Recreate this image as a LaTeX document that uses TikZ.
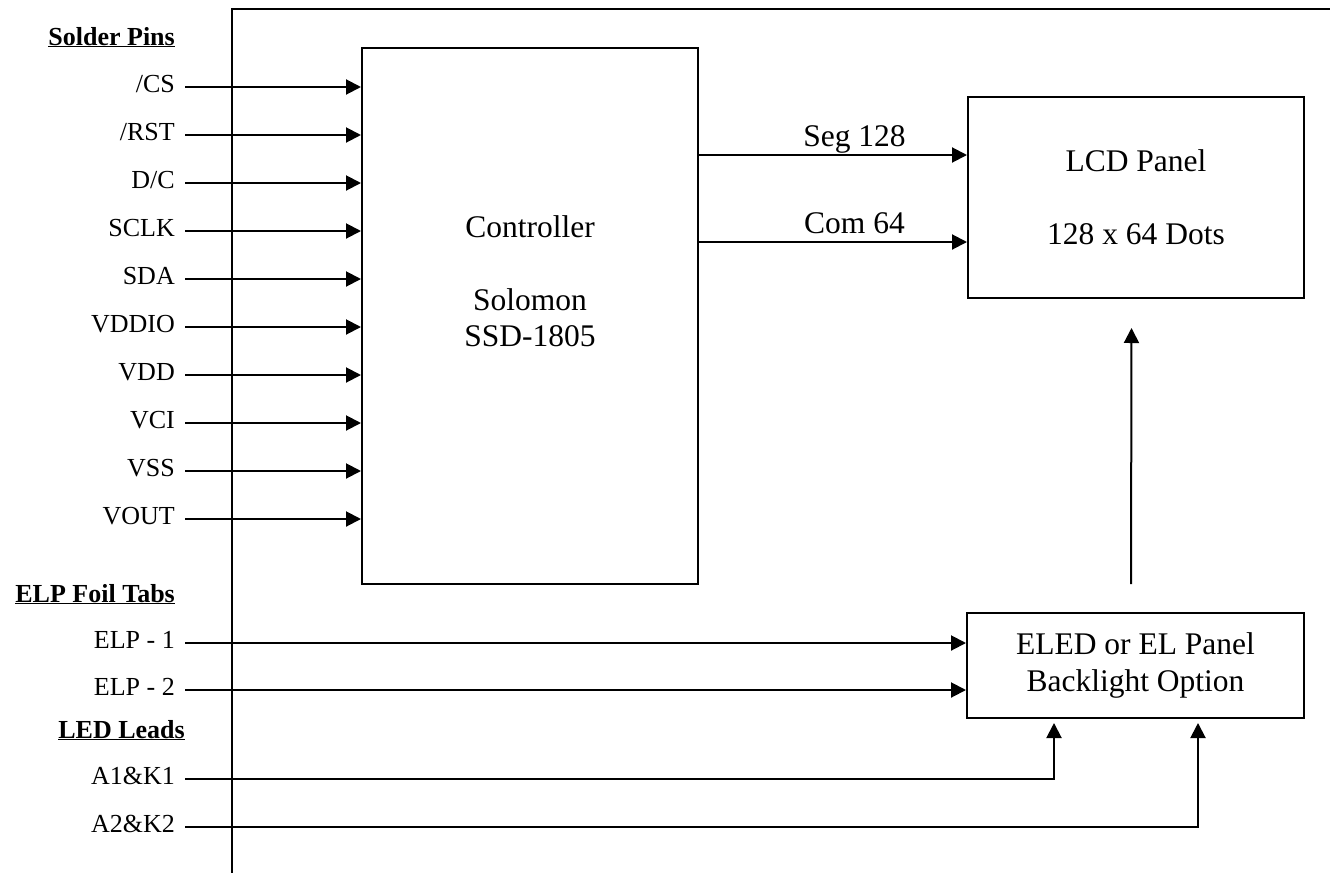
\documentclass[tikz,border=0pt]{standalone}
\usepackage{fontspec}
\setmainfont{Liberation Serif}
\usetikzlibrary{arrows.meta}

\begin{document}
\begin{tikzpicture}[x=1pt,y=-1pt,
	small/.style={font=\fontsize{26}{30}\selectfont},
	big/.style={font=\fontsize{31.5}{36.5}\selectfont},
	pin/.style={small,anchor=east,inner xsep=10pt,inner ysep=0pt,text height=18pt,text depth=8pt},
	head/.style={font=\fontsize{26}{30}\selectfont\bfseries,anchor=base east,inner sep=0pt},
	box/.style={draw,line width=2pt,inner sep=0pt,align=center,big},
	wire/.style={line width=2pt},
	arr/.style={wire,-{Triangle[length=15pt,width=15pt]}},
	sig/.style={big,anchor=base,inner sep=0pt,yshift=9pt}]
	\useasboundingbox (0,0) rectangle (1331,873);
	% Frame
	\draw[wire] (232,873) -- (232,9) -- (1330,9);

	% Place blocks
	\node[box,minimum width=336pt,minimum height=536pt] (ctrl) at (530,316) {};
	\node[big,align=center,inner sep=0pt] (ctrltxt) at (530,281) {Controller\\[36.5pt]Solomon\\SSD-1805};
	\node[box,minimum width=336pt,minimum height=201pt] (lcd) at (1136,197.5) {LCD Panel\\[36.5pt]128 x 64 Dots};
	\node[box,minimum width=337pt,minimum height=105pt] (eled) at (1135.5,665.5) {ELED or EL Panel\\Backlight Option};

	% Headings
	\node[head] (solder) at (175,45) {\underline{Solder Pins}};
	\node[head] (foil) at (175,602) {\underline{ELP Foil Tabs}};
	\node[head] (leads) at (185,738) {\underline{LED Leads}};

	% Solder pins
	\foreach \name/\txt/\y in {cs/{/CS}/87, rst/{/RST}/135, dc/{D/C}/183, sclk/SCLK/231, sda/SDA/279,
			vddio/VDDIO/327, vdd/VDD/375, vci/VCI/423, vss/VSS/471, vout/VOUT/519}
	{
		\node[pin] (\name) at (185,\y) {\txt};
		\draw[arr] (\name.east) -- (\name.east -| ctrl.west);
	}

	% Foil tabs and leads
	\node[pin] (elp1) at (185,643) {ELP - 1};
	\node[pin] (elp2) at (185,690) {ELP - 2};
	\node[pin] (ak1) at (185,779) {A1\&K1};
	\node[pin] (ak2) at (185,827) {A2\&K2};
	\draw[arr] (elp1.east) -- (elp1.east -| eled.west);
	\draw[arr] (elp2.east) -- (elp2.east -| eled.west);
	\draw[arr] (ak1.east) -| ([xshift=-81.5pt,yshift=-4pt]eled.south);
	\draw[arr] (ak2.east) -| ([xshift=62.5pt,yshift=-4pt]eled.south);

	% Controller to panel
	\coordinate (segin) at ([yshift=42.5pt]lcd.west);
	\coordinate (comin) at ([yshift=-44.5pt]lcd.west);
	\draw[arr] (ctrl.east |- segin) -- node[sig,pos=0.58] (seglbl) {Seg 128} (segin);
	\draw[arr] (ctrl.east |- comin) -- node[sig,pos=0.58] (comlbl) {Com 64} (comin);

	% Backlight to panel
	\draw[arr] ([xshift=-4.5pt,yshift=28pt]eled.north) -- ([xshift=-4.5pt,yshift=-29pt]lcd.south);
\end{tikzpicture}
\end{document}
